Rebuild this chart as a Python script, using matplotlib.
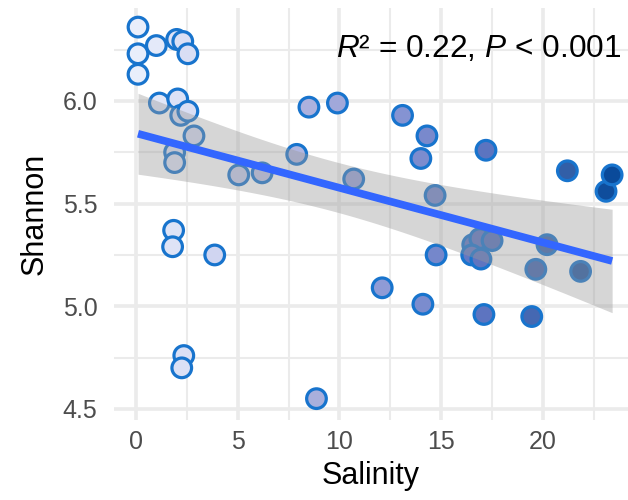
import numpy as np
import matplotlib
matplotlib.use("Agg")
import matplotlib.pyplot as plt
from matplotlib.colors import LinearSegmentedColormap

plt.rcParams['font.family'] = ['Liberation Sans', 'DejaVu Sans']
plt.rcParams['mathtext.fontset'] = 'custom'
plt.rcParams['mathtext.it'] = 'Liberation Sans:italic'
plt.rcParams['mathtext.rm'] = 'Liberation Sans'

salinity = [0.1, 0.1, 0.1, 1.0, 2.0, 2.3, 2.55, 1.15, 2.05, 2.2, 2.55, 2.85, 1.9, 1.9,
            5.05, 6.2, 7.9, 8.5, 9.9, 10.7, 13.1, 14.3, 14.0, 17.2, 21.2, 23.1, 23.4,
            1.85, 1.8, 3.87, 2.35, 2.25, 8.87, 12.1, 14.1, 14.75, 14.7, 16.55, 16.9,
            17.5, 16.5, 16.95, 17.1, 19.45, 19.65, 20.2, 21.85]
shannon = [6.36, 6.23, 6.13, 6.27, 6.30, 6.29, 6.23, 5.99, 6.01, 5.93, 5.95, 5.83, 5.75, 5.70,
           5.64, 5.65, 5.74, 5.97, 5.99, 5.62, 5.93, 5.83, 5.72, 5.76, 5.66, 5.56, 5.64,
           5.37, 5.29, 5.25, 4.76, 4.70, 4.55, 5.09, 5.01, 5.25, 5.54, 5.30, 5.33,
           5.32, 5.25, 5.23, 4.96, 4.95, 5.18, 5.30, 5.17]
x_ticks = [0, 5, 10, 15, 20]
y_ticks = [4.5, 5.0, 5.5, 6.0]
annotation = "$R$² = 0.22, $P$ < 0.001"

x = np.array(salinity)
y = np.array(shannon)

cmap = LinearSegmentedColormap.from_list(
    "sal", [(0.0, "#e9eefb"), (0.17, "#cfd4f0"), (0.38, "#a8aedc"), (0.52, "#8e9ad6"),
            (0.73, "#5d74c0"), (0.9, "#3460a8"), (1.0, "#0a4a9a")])

fig = plt.figure(figsize=(6.28, 5.0), dpi=100)
ax = fig.add_axes([114/628, 80/500, 1 - 114/628, (420-8)/500])

ax.scatter(x, y, c=x, cmap=cmap, vmin=x.min(), vmax=x.max(), s=200,
           edgecolors="#1874cd", linewidths=2.3, zorder=3)

# linear fit with 95% CI
n = len(x)
b1, b0 = np.polyfit(x, y, 1)
xs = np.linspace(x.min(), x.max(), 100)
ys = b0 + b1 * xs
resid = y - (b0 + b1 * x)
s = np.sqrt(np.sum(resid**2) / (n - 2))
se = s * np.sqrt(1/n + (xs - x.mean())**2 / np.sum((x - x.mean())**2))
t = 2.014
ax.fill_between(xs, ys - t*se, ys + t*se, color="#999999", alpha=0.4, lw=0, zorder=4)
ax.plot(xs, ys, color="#3366ff", lw=5.5, zorder=5, solid_capstyle="butt")

ax.text(23.85, 6.255, annotation, ha="right", va="center", fontsize=22.8, color="black", zorder=6)

ax.set_xlim(-1.08, 24.18)
ax.set_ylim(4.446, 6.453)
ax.set_xticks(x_ticks)
ax.set_yticks(y_ticks)
ax.set_yticklabels([f"{v:.1f}" for v in y_ticks])
ax.set_xticks([2.5, 7.5, 12.5, 17.5, 22.5], minor=True)
ax.set_yticks([4.75, 5.25, 5.75, 6.25], minor=True)
ax.grid(which="major", color="#ebebeb", lw=2.6, zorder=0)
ax.grid(which="minor", color="#ebebeb", lw=1.5, zorder=0)
ax.set_axisbelow(True)
ax.tick_params(which="both", length=0)
ax.tick_params(axis="x", labelsize=18, labelcolor="#4d4d4d", pad=7)
ax.tick_params(axis="y", labelsize=18, labelcolor="#4d4d4d", pad=12)
for sp in ax.spines.values():
    sp.set_visible(False)
ax.set_xlabel("Salinity", fontsize=22, labelpad=5)
ax.set_ylabel("Shannon", fontsize=22, labelpad=9)

fig.savefig("out.png", dpi=100)
